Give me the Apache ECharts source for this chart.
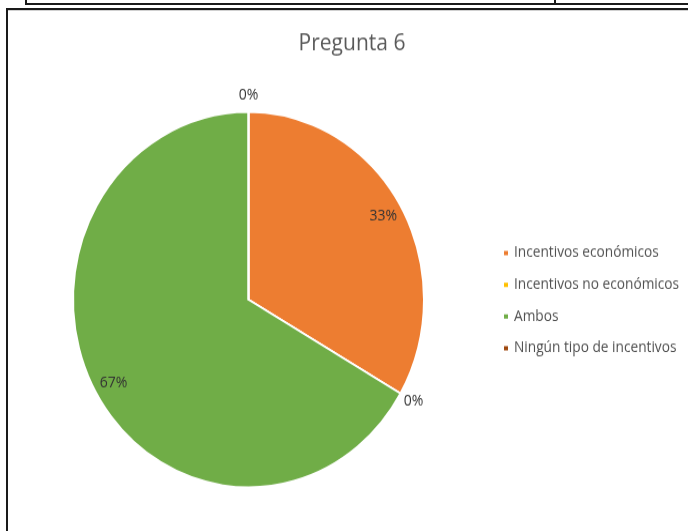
<!DOCTYPE html>
<html>
<head>
<meta charset="utf-8">
<script src="https://cdn.jsdelivr.net/npm/echarts@6/dist/echarts.min.js"></script>
<style>
  html, body { margin: 0; padding: 0; background: #fff; }
  body { width: 688px; height: 531px; position: relative; overflow: hidden; }
  #chart { position: absolute; left: 0; top: 0; width: 688px; height: 496px;
           transform: scaleY(1.07); transform-origin: 0 0; }
  .ln { position: absolute; background: #1a1a1a; }
</style>
</head>
<body>
<!-- table row above the chart -->
<div class="ln" style="left:25px; top:3px; width:663px; height:2px;"></div>
<div class="ln" style="left:25px; top:0; width:2px; height:5px;"></div>
<div class="ln" style="left:554px; top:0; width:2px; height:5px;"></div>
<div id="chart"></div>
<!-- chart frame -->
<div class="ln" style="left:6px; top:8px; width:682px; height:2px;"></div>
<div class="ln" style="left:6px; top:8px; width:2px; height:523px;"></div>
<div class="ln" style="left:8px; top:10px; width:680px; height:1px; background:#d0d0d0;"></div>
<script>
// Pregunta 6: respuestas por tipo de incentivo
const titleText = 'Pregunta 6';
const categories = ['Incentivos económicos', 'Incentivos no económicos', 'Ambos', 'Ningún tipo de incentivos'];
const values = [1, 0, 2, 0];
const colors = ['#ED7D31', '#FFC000', '#70AD47', '#9E480E'];
// which slices carry their percentage inside the pie (others sit just outside)
const labelInside = [true, false, true, false];

const center = [248.5, 280];
const R = 175.5;
const labelStyle = { color: '#333333', fontSize: 14, fontFamily: 'Open Sans' };

function ringData(showFn) {
  return categories.map((name, i) => ({
    name: name,
    value: values[i],
    itemStyle: { color: 'transparent', borderWidth: 0 },
    label: { show: showFn(i) }
  }));
}

const chart = echarts.init(document.getElementById('chart'), null, { renderer: 'canvas' });
chart.setOption({
  animation: false,
  backgroundColor: 'transparent',
  title: {
    text: titleText,
    left: 347, textAlign: 'center', top: 26,
    textStyle: { color: '#595959', fontSize: 21, fontWeight: 'normal', fontFamily: 'Open Sans' }
  },
  legend: {
    orient: 'vertical',
    left: 502, top: 229.6,
    padding: 0,
    data: categories,
    icon: 'rect',
    itemWidth: 6, itemHeight: 6,
    itemGap: 15.6,
    selectedMode: false,
    textStyle: { color: '#505050', fontSize: 13.7, lineHeight: 14, fontFamily: 'Open Sans' }
  },
  series: [
    {
      type: 'pie',
      center: center,
      radius: R,
      startAngle: 90,
      clockwise: true,
      silent: true,
      label: { show: false },
      labelLine: { show: false },
      itemStyle: { borderColor: '#ffffff', borderWidth: 2 },
      data: categories.map((name, i) => ({ name: name, value: values[i], itemStyle: { color: colors[i] } }))
    },
    {
      // percentages drawn inside the larger slices
      type: 'pie',
      center: center,
      radius: [130, R],
      startAngle: 90,
      silent: true,
      percentPrecision: 0,
      legendHoverLink: false,
      label: Object.assign({ position: 'inside', formatter: '{d}%' }, labelStyle),
      labelLine: { show: false },
      emphasis: { disabled: true },
      data: ringData(i => labelInside[i])
    },
    {
      // percentages of the empty slices, just outside the rim
      type: 'pie',
      center: center,
      radius: [R, R + 24],
      startAngle: 90,
      silent: true,
      percentPrecision: 0,
      legendHoverLink: false,
      label: Object.assign({ position: 'inside', formatter: '{d}%' }, labelStyle),
      labelLine: { show: false },
      emphasis: { disabled: true },
      data: ringData(i => !labelInside[i])
    }
  ]
});
</script>
</body>
</html>
